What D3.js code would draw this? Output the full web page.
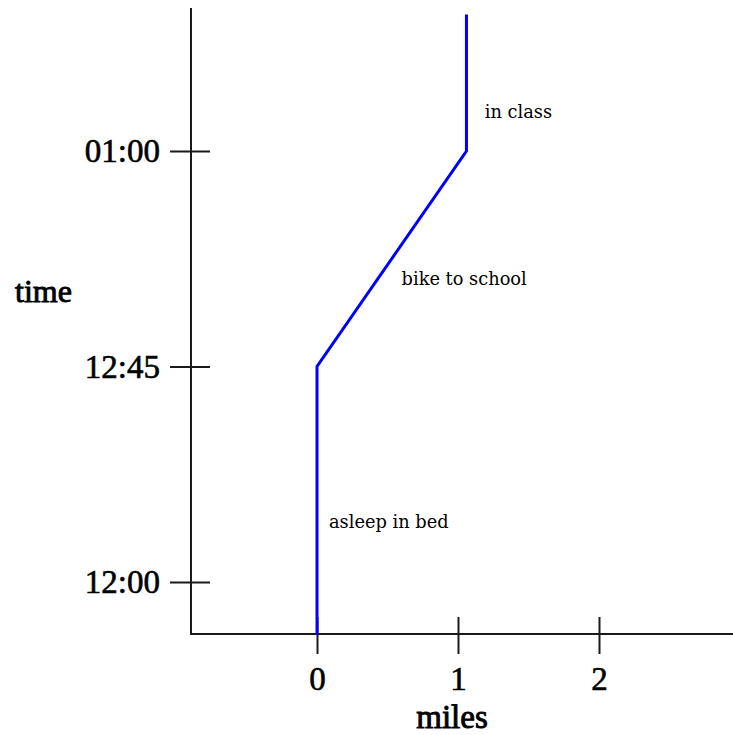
<!DOCTYPE html>
<html>
<head>
<meta charset="utf-8">
<script src="https://cdn.jsdelivr.net/npm/d3@7/dist/d3.min.js"></script>
<style>
  html, body { margin: 0; padding: 0; background: #fff; }
  svg { display: block; }
</style>
</head>
<body>
<svg id="chart" width="733" height="735"></svg>
<script>
// ---- data ----
const timeTicks = [0, 45, 60];                 // minutes after 12:00
const timeLabels = ["12:00", "12:45", "01:00"];
const mileTicks = [0, 1, 2];
const mileLabels = ["0", "1", "2"];
// path of the trip
const pathMiles   = [0, 0, 1.06, 1.06];
const pathMinutes = [-11, 45, 60, 69.5];
// annotations
const noteTexts   = ["asleep in bed", "bike to school", "in class"];
const noteMiles   = [0.085, 0.60, 1.19];
const noteMinutes = [11.25, 50.65, 62.3];

// ---- layout ----
const svg = d3.select("#chart");
const plotLeft = 191, plotRight = 733, plotTop = 8, plotBottom = 634;

const x = d3.scaleLinear().domain([0, 2]).range([317, 599]);
const y = d3.scaleLinear().domain([0, 45, 60]).range([582, 366.5, 151]);

const axisColor = "#1a1a1a";
const serif = "'Liberation Serif', 'Times New Roman', serif";

// axis lines
svg.append("line").attr("x1", plotLeft).attr("x2", plotLeft).attr("y1", plotTop).attr("y2", plotBottom + 1)
  .attr("stroke", axisColor).attr("stroke-width", 2);
svg.append("line").attr("x1", plotLeft).attr("x2", plotRight).attr("y1", plotBottom).attr("y2", plotBottom)
  .attr("stroke", axisColor).attr("stroke-width", 2);

// y axis
const yAxis = svg.append("g").attr("transform", `translate(${plotLeft},0)`)
  .call(d3.axisLeft(y).tickValues(timeTicks).tickFormat((d, i) => timeLabels[i]).tickSize(21).tickPadding(10));
yAxis.select(".domain").remove();
yAxis.selectAll(".tick line").attr("x1", 19).attr("stroke", axisColor).attr("stroke-width", 2);
yAxis.selectAll(".tick text")
  .attr("font-family", serif).attr("font-size", 33).attr("fill", "#000")
  .attr("stroke", "#000").attr("stroke-width", 0.6).attr("dy", "0.33em");

// x axis
const xAxis = svg.append("g").attr("transform", `translate(0,${plotBottom})`)
  .call(d3.axisBottom(x).tickValues(mileTicks).tickFormat((d, i) => mileLabels[i]).tickSize(20));
xAxis.select(".domain").remove();
xAxis.selectAll(".tick line").attr("y1", -17).attr("stroke", axisColor).attr("stroke-width", 2);
xAxis.selectAll(".tick text")
  .attr("font-family", serif).attr("font-size", 33).attr("fill", "#000")
  .attr("stroke", "#000").attr("stroke-width", 0.6).attr("y", 56).attr("dy", 0);

// axis titles
svg.append("text").attr("x", 15).attr("y", 302)
  .attr("font-family", serif)
  .attr("stroke", "#000").attr("stroke-width", 0.9)
  .attr("font-size", 32).attr("fill", "#000").text("time");
svg.append("text").attr("x", 452).attr("y", 728).attr("text-anchor", "middle")
  .attr("font-family", serif)
  .attr("stroke", "#000").attr("stroke-width", 0.9)
  .attr("font-size", 33).attr("fill", "#000").text("miles");

// trip line
const pts = pathMiles.map((m, i) => [m, pathMinutes[i]]);
svg.append("path").datum(pts)
  .attr("d", d3.line().x(d => x(d[0])).y(d => y(d[1])))
  .attr("fill", "none").attr("stroke", "#0000ff").attr("stroke-width", 3)
  .attr("stroke-linejoin", "miter");

// annotations
svg.selectAll("text.note").data(noteTexts).join("text").attr("class", "note")
  .attr("x", (d, i) => x(noteMiles[i]))
  .attr("y", (d, i) => y(noteMinutes[i]))
  .attr("font-family", "'DejaVu Serif', serif")
  .attr("font-size", 17.8).attr("fill", "#000")
  .text(d => d);
</script>
</body>
</html>
